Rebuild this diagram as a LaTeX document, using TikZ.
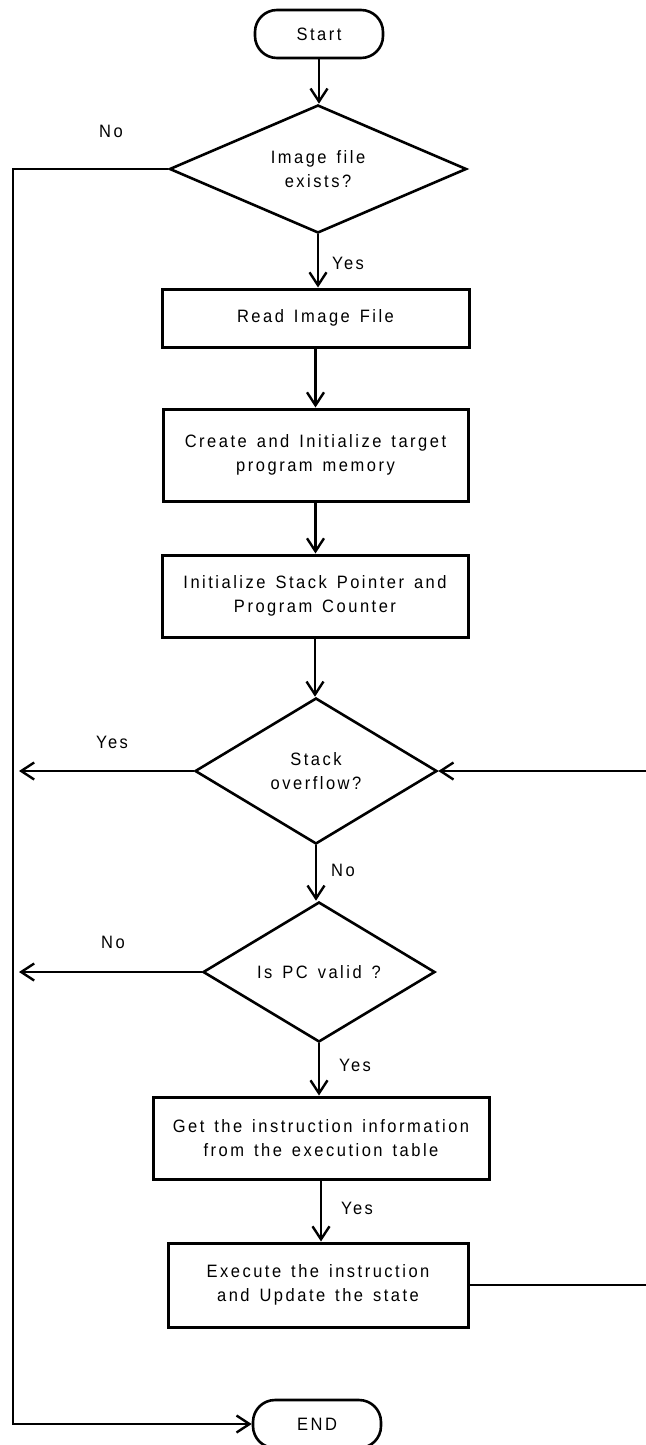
\documentclass[tikz,border=0pt]{standalone}
\usepackage{fontspec}
\setmainfont{Liberation Sans}[FakeStretch=0.92,LetterSpace=14,WordSpace=1.4]
\usetikzlibrary{shapes.geometric,arrows.meta}

\begin{document}
\begin{tikzpicture}[x=1bp,y=1bp,>={Straight Barb[length=13bp,width=17bp]},
  every node/.style={font=\fontsize{18}{24}\selectfont},
  term/.style={draw,line width=2.6bp,rounded corners=22bp,minimum width=128bp,minimum height=48bp,inner sep=0pt},
  proc/.style={draw,line width=3bp,align=center,inner sep=0pt},
  cond/.style={draw,diamond,line width=2.6bp,align=center,inner sep=0pt,shape aspect=2},
  flow/.style={->,line width=2.4bp}]
  \useasboundingbox (0,0) rectangle (646,-1445);
  % Draw terminals
  \node[term] (start) at (319,-34) {Start};
  \node[term] (stop) at (317,-1424) {END};
  % Draw process boxes
  \node[proc,minimum width=307bp,minimum height=58bp] (read) at (315.5,-318) {Read Image File};
  \node[proc,minimum width=305bp,minimum height=92bp] (create) at (315.5,-455) {Create and Initialize target\\program memory};
  \node[proc,minimum width=306bp,minimum height=82bp] (init) at (315,-596) {Initialize Stack Pointer and\\Program Counter};
  \node[proc,minimum width=336bp,minimum height=82bp] (fetch) at (321,-1138) {Get the instruction information\\from the execution table};
  \node[proc,minimum width=300bp,minimum height=84bp] (exec) at (318,-1285) {Execute the instruction\\and Update the state};
  % Draw decisions
  \node[cond,minimum width=297bp,minimum height=128bp] (exists) at (318,-169) {Image file\\exists?};
  \node[cond,minimum width=242bp,minimum height=146bp] (overflow) at (316,-771) {Stack\\overflow?};
  \node[cond,minimum width=232bp,minimum height=140bp] (valid) at (319,-972) {Is PC valid ?};
  % Draw free ends of the side lines
  \coordinate (leftrail) at (13,-169);
  \coordinate (ovfend) at (19,-771);
  \coordinate (pcend) at (19,-972);
  \coordinate (rightrail) at (647.5,-1285);
  % Draw main flow
  \draw[flow] (start) -- (start |- exists.north);
  \draw[flow] (exists) -- (exists |- read.north);
  \draw[flow] (read) -- (read |- create.north);
  \draw[flow] (create) -- (create |- init.north);
  \draw[flow] (init) -- (init |- overflow.north);
  \draw[flow] (overflow) -- (overflow |- valid.north);
  \draw[flow] (valid) -- (valid |- fetch.north);
  \draw[flow] (fetch) -- (fetch |- exec.north);
  % Draw side branches
  \draw[flow] (exists.west) -- (leftrail) |- (stop.west);
  \draw[flow] (overflow.west) -- (ovfend);
  \draw[flow] (valid.west) -- (pcend);
  \draw[flow] (exec.east) -- (rightrail) |- (overflow.east);
  % Draw branch labels
  \node (noexists) at (111,-131) {No};
  \node (yesexists) at (348,-263) {Yes};
  \node (yesoverflow) at (112,-742) {Yes};
  \node (nooverflow) at (343,-870) {No};
  \node (novalid) at (113,-942) {No};
  \node (yesvalid) at (355,-1065) {Yes};
  \node (yesfetch) at (357,-1208) {Yes};
\end{tikzpicture}
\end{document}
